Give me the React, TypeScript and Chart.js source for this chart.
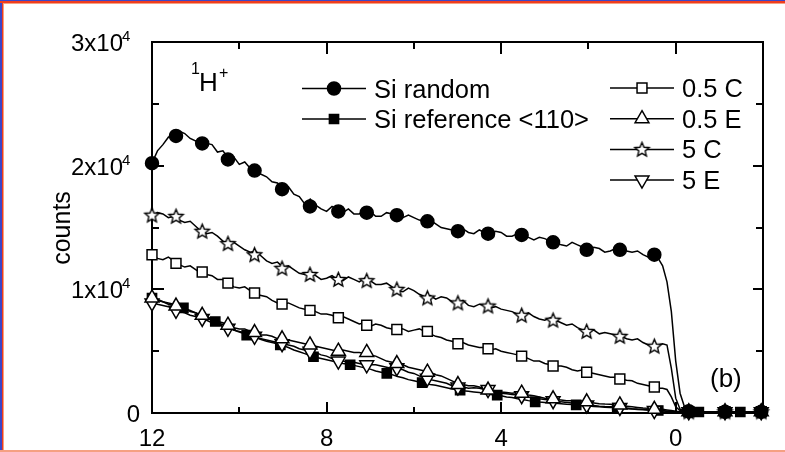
import React, { useEffect, useRef } from 'react';
import { Chart, registerables } from 'chart.js';
import { drawPoint } from 'chart.js/helpers';

Chart.register(...registerables);

// ---------- data ----------
const depth = [
  12, 11.875, 11.75, 11.625, 11.5, 11.375, 11.25, 11.125, 11, 10.875, 10.75, 10.625, 10.5, 10.375, 10.25, 10.125,
  10, 9.875, 9.75, 9.625, 9.5, 9.375, 9.25, 9.125, 9, 8.875, 8.75, 8.625, 8.5, 8.375, 8.25, 8.125,
  8, 7.875, 7.75, 7.625, 7.5, 7.375, 7.25, 7.125, 7, 6.875, 6.75, 6.625, 6.5, 6.375, 6.25, 6.125,
  6, 5.875, 5.75, 5.625, 5.5, 5.375, 5.25, 5.125, 5, 4.875, 4.75, 4.625, 4.5, 4.375, 4.25, 4.125,
  4, 3.875, 3.75, 3.625, 3.5, 3.375, 3.25, 3.125, 3, 2.875, 2.75, 2.625, 2.5, 2.375, 2.25, 2.125,
  2, 1.875, 1.75, 1.625, 1.5, 1.375, 1.25, 1.125, 1, 0.875, 0.75, 0.625, 0.5,
  0.4, 0.3, 0.2, 0.1, 0, -0.1, -0.2, -0.3, -0.5, -0.75, -1, -1.25, -1.5, -1.75, -2,
];

const siRandom = [
  20200, 21200, 21700, 22300, 22500, 22800, 22600, 22200, 22000, 22100, 21800, 21700, 21100, 21200, 20600, 20700,
  20100, 20300, 19800, 19400, 19300, 19100, 18700, 18600, 18100, 18300, 17700, 17500, 16900, 17300, 16800, 16500,
  16300, 16700, 16400, 16200, 16500, 16100, 16100, 16400, 16300, 15900, 15900, 16200, 16100, 15700, 15800, 16000,
  15800, 15600, 15500, 15600, 15300, 15000, 14900, 14800, 14700, 14900, 14600, 14500, 14800, 14600, 14400, 14700,
  14600, 14300, 14300, 14500, 14400, 14200, 14000, 14200, 14100, 13900, 13800, 13600, 13500, 13800, 13600, 13400,
  13200, 13400, 13300, 13000, 13100, 13300, 13200, 13100, 13000, 13100, 12800, 12600, 12800,
  12500, 11900, 10600, 8200, 4200, 1600, 500, 200, 100, 100, 100, 100, 100, 100, 100,
];
const c5 = [
  16000, 16200, 16100, 15800, 15900, 15600, 15400, 15500, 15100, 14700, 14500, 14600, 14300, 13900, 13700, 13800,
  13500, 13200, 13000, 13100, 12700, 12300, 12100, 12200, 11800, 11900, 11600, 11300, 11200, 11400, 11100, 10800,
  10900, 11100, 10800, 10700, 11000, 10800, 10600, 10900, 10700, 10400, 10400, 10500, 10200, 9900, 9800, 10100,
  9900, 9600, 9400, 9500, 9200, 9400, 9300, 9000, 8900, 9100, 8700, 8600, 8800, 8700, 8500, 8600,
  8400, 8300, 8200, 8000, 7900, 8100, 7800, 7600, 7500, 7700, 7500, 7300, 7100, 7200, 6900, 6700,
  6600, 6700, 6400, 6500, 6400, 6300, 6200, 6000, 5900, 6000, 5700, 5500, 5400,
  5500, 5600, 5500, 3600, 1200, 300, 150, 100, 100, 100, 100, 100, 100, 100, 100,
];
const c05 = [
  12800, 12500, 12400, 12600, 12300, 12000, 11800, 11900, 11600, 11300, 11200, 11100, 10800, 10800, 10500, 10200,
  10100, 10200, 9900, 9600, 9500, 9400, 9100, 8900, 8800, 8900, 8700, 8500, 8400, 8500, 8200, 8000,
  8000, 7900, 7700, 7800, 7600, 7400, 7200, 7300, 7000, 7200, 7100, 6900, 6800, 6900, 6800, 6600,
  6700, 6800, 6600, 6400, 6200, 6100, 5900, 5800, 5600, 5700, 5500, 5400, 5300, 5300, 5100, 5200,
  5000, 4900, 4800, 4700, 4600, 4400, 4200, 4200, 4000, 3900, 3800, 3800, 3700, 3500, 3400, 3500,
  3300, 3200, 3100, 3000, 2900, 2900, 2750, 2650, 2600, 2400, 2300, 2200, 2100,
  2000, 2000, 1900, 1300, 500, 200, 100, 100, 100, 100, 100, 100, 100, 100, 100,
];
const e05 = [
  9500, 9200, 9000, 8900, 8800, 8600, 8500, 8200, 8100, 7900, 7800, 7600, 7400, 7300, 7100, 6900,
  6800, 6800, 6600, 6400, 6300, 6300, 6200, 6000, 6000, 5900, 5800, 5700, 5600, 5500, 5400, 5300,
  5200, 5100, 5000, 5100, 5000, 4900, 4900, 4800, 4700, 4600, 4400, 4200, 4100, 4000, 3900, 3700,
  3600, 3500, 3400, 3300, 3100, 3000, 2800, 2600, 2400, 2300, 2200, 2200, 2100, 1950, 1850, 1800,
  1700, 1650, 1600, 1650, 1550, 1450, 1400, 1300, 1200, 1150, 1100, 1050, 1000, 1000, 950, 900,
  850, 800, 750, 720, 700, 650, 600, 550, 500, 450, 400, 380, 350,
  300, 300, 250, 200, 150, 100, 100, 100, 100, 100, 100, 100, 100, 100, 100,
];
const e5 = [
  9000, 8800, 8700, 8600, 8400, 8200, 8100, 7900, 7800, 7700, 7500, 7300, 7200, 7000, 6900, 6700,
  6600, 6500, 6300, 6100, 6000, 5900, 5800, 5700, 5600, 5500, 5400, 5200, 5100, 5000, 4900, 4700,
  4600, 4400, 4300, 4200, 4100, 4100, 4000, 3900, 3900, 3900, 3800, 3700, 3600, 3600, 3500, 3300,
  3200, 3000, 2900, 2700, 2600, 2500, 2400, 2200, 2100, 2100, 2000, 2050, 2000, 1900, 1800, 1700,
  1600, 1550, 1500, 1450, 1400, 1300, 1250, 1150, 1100, 1050, 1000, 900, 850, 800, 750, 700,
  650, 600, 550, 520, 500, 480, 450, 400, 350, 320, 300, 250, 200,
  200, 200, 150, 150, 100, 100, 100, 100, 100, 100, 100, 100, 100, 100, 100,
];
const siRef = [
  9300, 9100, 9000, 8800, 8700, 8600, 8450, 8300, 8100, 7900, 7700, 7500, 7350, 7100, 6900, 6700,
  6550, 6400, 6200, 6100, 5950, 5800, 5700, 5600, 5450, 5300, 5100, 4950, 4800, 4650, 4500, 4400,
  4300, 4200, 4100, 4000, 3950, 3850, 3750, 3650, 3550, 3400, 3300, 3200, 3100, 2950, 2850, 2700,
  2600, 2500, 2400, 2300, 2250, 2150, 2050, 1950, 1900, 1800, 1750, 1700, 1650, 1550, 1500, 1450,
  1400, 1300, 1250, 1150, 1100, 1000, 920, 880, 850, 800, 780, 740, 700, 680, 650, 600,
  560, 530, 500, 470, 450, 420, 380, 350, 320, 290, 260, 240, 220,
  200, 170, 140, 110, 90, 80, 80, 80, 80, 80, 80, 80, 80, 80, 80,
];

const markerDepth = [12, 11.45, 10.85, 10.26, 9.65, 9.02, 8.38, 7.73, 7.08, 6.39, 5.69, 4.99, 4.3, 3.53, 2.81, 2.04, 1.28, 0.49, -0.3, -1.13, -1.96];
const siRandomMarks = [20200, 22400, 21800, 20500, 19600, 18100, 16700, 16300, 16200, 16000, 15500, 14700, 14500, 14400, 13800, 13200, 13200, 12800, 150, 100, 100];
const c5Marks = [16000, 15900, 14700, 13700, 12800, 11700, 11200, 10800, 10700, 10000, 9300, 8900, 8650, 7900, 7500, 6600, 6200, 5400, 100, 100, 100];
const c05Marks = [12800, 12100, 11400, 10500, 9700, 8800, 8300, 7700, 7100, 6750, 6600, 5600, 5200, 4600, 3800, 3300, 2750, 2100, 100, 100, 100];
const e05Marks = [9300, 8650, 7900, 7100, 6500, 6000, 5500, 5000, 4900, 4000, 3300, 2300, 1850, 1600, 1150, 900, 650, 300, 100, 100, 100];
const e5Marks = [8900, 8300, 7650, 6850, 6200, 5600, 5000, 4200, 3900, 3650, 2800, 2100, 1900, 1400, 1000, 650, 450, 200, 100, 100, 100];
const refMarkerDepth = [12, 11.28, 10.55, 9.83, 9.06, 8.3, 7.46, 6.62, 5.81, 4.94, 4.09, 3.22, 2.28, 1.34, 0.4, -0.53, -1.48];
const siRefMarks = [9300, 8500, 7400, 6300, 5500, 4550, 3900, 3200, 2450, 1850, 1450, 900, 650, 400, 200, 80, 80];

const xMajorTicks = [12, 8, 4, 0];
const xMinorTicks = [10, 6, 2];
const xTickLabels = ['12', '8', '4', '0'];
const yMajorTicks = [0, 10000, 20000, 30000];
const yMinorTicks = [5000, 15000, 25000];
const yTickMantissa = ['0', '1x10', '2x10', '3x10'];
const yTickExponent = ['', '4', '4', '4'];

const legendLeft = ['Si random', 'Si reference <110>'];
const legendRight = ['0.5 C', '0.5 E', '5 C', '5 E'];

const FONT = '"Liberation Sans", Arial, Helvetica, sans-serif';

function makeStar(r: number): HTMLCanvasElement {
  const size = Math.ceil(r * 2 + 4);
  const c = document.createElement('canvas');
  c.width = size;
  c.height = size;
  const g = c.getContext('2d')!;
  const cx = size / 2;
  const cy = size / 2 + 0.5;
  g.beginPath();
  for (let i = 0; i < 10; i++) {
    const rad = i % 2 === 0 ? r : r * 0.45;
    const a = -Math.PI / 2 + (i * Math.PI) / 5;
    const px = cx + rad * Math.cos(a);
    const py = cy + rad * Math.sin(a);
    if (i === 0) g.moveTo(px, py);
    else g.lineTo(px, py);
  }
  g.closePath();
  g.fillStyle = '#fff';
  g.fill();
  g.lineWidth = 1.4;
  g.strokeStyle = '#000';
  g.stroke();
  return c;
}

export default function App() {
  const ref = useRef<HTMLCanvasElement | null>(null);

  useEffect(() => {
    const canvas = ref.current;
    if (!canvas) return;
    const star = makeStar(7.5);

    const styles: Record<string, any> = {
      random: { pointStyle: 'circle', radius: 6.5, fill: '#000', rotation: 0 },
      ref: { pointStyle: 'rect', radius: 6.5, fill: '#000', rotation: 0 },
      c05: { pointStyle: 'rect', radius: 7, fill: '#fff', rotation: 0 },
      e05: { pointStyle: 'triangle', radius: 8, fill: '#fff', rotation: 0 },
      c5: { pointStyle: star, radius: 7.5, fill: '#fff', rotation: 0 },
      e5: { pointStyle: 'triangle', radius: 8, fill: '#fff', rotation: 180 },
    };

    const markerSet = (xs: number[], ys: number[], st: any) => ({
      data: xs.map((x, i) => ({ x, y: ys[i] })),
      showLine: false,
      pointStyle: st.pointStyle,
      pointRadius: st.radius,
      pointRotation: st.rotation,
      pointBackgroundColor: st.fill,
      pointBorderColor: '#000',
      pointBorderWidth: 1.5,
      clip: false as any,
    });
    const lineSet = (ys: number[]) => ({
      data: depth.map((x, i) => ({ x, y: ys[i] })),
      borderColor: '#000',
      borderWidth: 1.5,
      pointRadius: 0,
      tension: 0,
    });

    const decor = {
      id: 'decor',
      beforeDraw(chart: any) {
        const ctx = chart.ctx;
        const W = chart.width;
        const H = chart.height;
        ctx.save();
        ctx.fillStyle = '#ffffff';
        ctx.fillRect(0, 0, W, H);
        // cut-off text from the panel above
        ctx.fillStyle = '#000';
        ctx.font = `24px ${FONT}`;
        ctx.textAlign = 'left';
        ctx.textBaseline = 'alphabetic';
        ctx.fillText('(μm)', 446, -1);
        // image frame
        ctx.fillStyle = '#3c46c8';
        ctx.fillRect(0, 0, 2, H);
        ctx.fillRect(0, 0, W, 1);
        ctx.fillStyle = '#f03c1e';
        ctx.fillRect(2, 1, 1, H);
        ctx.fillRect(0, 1, W, 2);
        ctx.fillStyle = '#f5a082';
        ctx.fillRect(3, 3, 1, H);
        ctx.fillRect(3, 3, W, 1);
        ctx.fillRect(0, H - 2, W, 2);
        ctx.restore();
      },
      beforeDatasetsDraw(chart: any) {
        const ctx = chart.ctx;
        const { left, right, top, bottom } = chart.chartArea;
        const xs = chart.scales.x;
        const ys = chart.scales.y;
        ctx.save();
        ctx.strokeStyle = '#000';
        ctx.lineWidth = 2;
        ctx.strokeRect(left, top, right - left, bottom - top);
        ctx.beginPath();
        for (const v of xMajorTicks) {
          const p = Math.round(xs.getPixelForValue(v));
          ctx.moveTo(p, bottom); ctx.lineTo(p, bottom - 11);
          ctx.moveTo(p, top); ctx.lineTo(p, top + 12);
        }
        for (const v of xMinorTicks) {
          const p = Math.round(xs.getPixelForValue(v));
          ctx.moveTo(p, bottom); ctx.lineTo(p, bottom - 6);
          ctx.moveTo(p, top); ctx.lineTo(p, top + 7);
        }
        for (const v of yMajorTicks) {
          const p = Math.round(ys.getPixelForValue(v));
          ctx.moveTo(left, p); ctx.lineTo(left + 12, p);
          ctx.moveTo(right, p); ctx.lineTo(right - 10, p);
        }
        for (const v of yMinorTicks) {
          const p = Math.round(ys.getPixelForValue(v));
          ctx.moveTo(left, p); ctx.lineTo(left + 7, p);
          ctx.moveTo(right, p); ctx.lineTo(right - 7, p);
        }
        ctx.stroke();
        ctx.restore();
      },
      afterDraw(chart: any) {
        const ctx = chart.ctx;
        const xs = chart.scales.x;
        const ys = chart.scales.y;
        ctx.save();
        ctx.fillStyle = '#000';
        ctx.textBaseline = 'alphabetic';
        // x tick labels
        ctx.font = `24px ${FONT}`;
        ctx.textAlign = 'center';
        xMajorTicks.forEach((v, i) => {
          ctx.fillText(xTickLabels[i], xs.getPixelForValue(v), 446);
        });
        // y tick labels
        yMajorTicks.forEach((v, i) => {
          const p = ys.getPixelForValue(v);
          const exp = yTickExponent[i];
          ctx.font = `24px ${FONT}`;
          if (!exp) {
            ctx.textAlign = 'right';
            ctx.fillText(yTickMantissa[i], 140, p + 9);
          } else {
            ctx.textAlign = 'right';
            ctx.fillText(yTickMantissa[i], 123, p + 9);
            ctx.font = `15px ${FONT}`;
            ctx.textAlign = 'left';
            ctx.fillText(exp, 122, p - 1);
          }
        });
        // y axis title
        ctx.save();
        ctx.translate(70, 228);
        ctx.rotate(-Math.PI / 2);
        ctx.font = `25px ${FONT}`;
        ctx.textAlign = 'center';
        ctx.fillText('counts', 0, 0);
        ctx.restore();
        // 1H+ annotation
        ctx.textAlign = 'left';
        ctx.font = `16px ${FONT}`;
        ctx.fillText('1', 191, 74);
        ctx.font = `26px ${FONT}`;
        ctx.fillText('H', 199, 91);
        ctx.font = `16px ${FONT}`;
        ctx.fillText('+', 219, 78);
        // (b)
        ctx.font = `26px ${FONT}`;
        ctx.fillText('(b)', 710, 387);
        // legends
        const drawEntry = (st: any, label: string, x0: number, x1: number, mx: number, tx: number, base: number) => {
          const my = base - 9;
          ctx.strokeStyle = '#000';
          ctx.lineWidth = 1.5;
          ctx.beginPath();
          ctx.moveTo(x0, my);
          ctx.lineTo(x1, my);
          ctx.stroke();
          ctx.fillStyle = st.fill;
          ctx.strokeStyle = '#000';
          ctx.lineWidth = 1.5;
          drawPoint(ctx, { pointStyle: st.pointStyle, radius: st.radius, rotation: st.rotation, borderWidth: 1.5 } as any, mx, my);
          ctx.fillStyle = '#000';
          ctx.font = `25.5px ${FONT}`;
          ctx.textAlign = 'left';
          ctx.fillText(label, tx, base);
        };
        const leftStyles = [styles.random, styles.ref];
        legendLeft.forEach((lab, i) => drawEntry(leftStyles[i], lab, 302, 366, 334, 374, 97.5 + i * 30.5));
        const rightStyles = [styles.c05, styles.e05, styles.c5, styles.e5];
        legendRight.forEach((lab, i) => drawEntry(rightStyles[i], lab, 610, 674, 642, 682, 97 + i * 30.7));
        ctx.restore();
      },
    };

    const chart = new Chart(canvas, {
      type: 'line',
      data: {
        datasets: [
          markerSet(markerDepth, siRandomMarks, styles.random),
          markerSet(markerDepth, c5Marks, styles.c5),
          markerSet(markerDepth, c05Marks, styles.c05),
          markerSet(markerDepth, e05Marks, styles.e05),
          markerSet(markerDepth, e5Marks, styles.e5),
          markerSet(refMarkerDepth, siRefMarks, styles.ref),
          lineSet(siRandom),
          lineSet(c5),
          lineSet(c05),
          lineSet(e05),
          lineSet(e5),
          lineSet(siRef),
        ] as any,
      },
      options: {
        responsive: false,
        animation: false,
        devicePixelRatio: 1,
        layout: { padding: { left: 152, right: 22, top: 42, bottom: 39 } },
        plugins: { legend: { display: false }, tooltip: { enabled: false } },
        events: [],
        scales: {
          x: { type: 'linear', min: -2, max: 12, reverse: true, display: false },
          y: { type: 'linear', min: 0, max: 30000, display: false },
        },
      },
      plugins: [decor],
    });
    return () => chart.destroy();
  }, []);

  return (
    <div style={{ position: 'absolute', left: 0, top: 0, width: 785, height: 452 }}>
      <canvas ref={ref} width={785} height={452} style={{ display: 'block' }} />
    </div>
  );
}
